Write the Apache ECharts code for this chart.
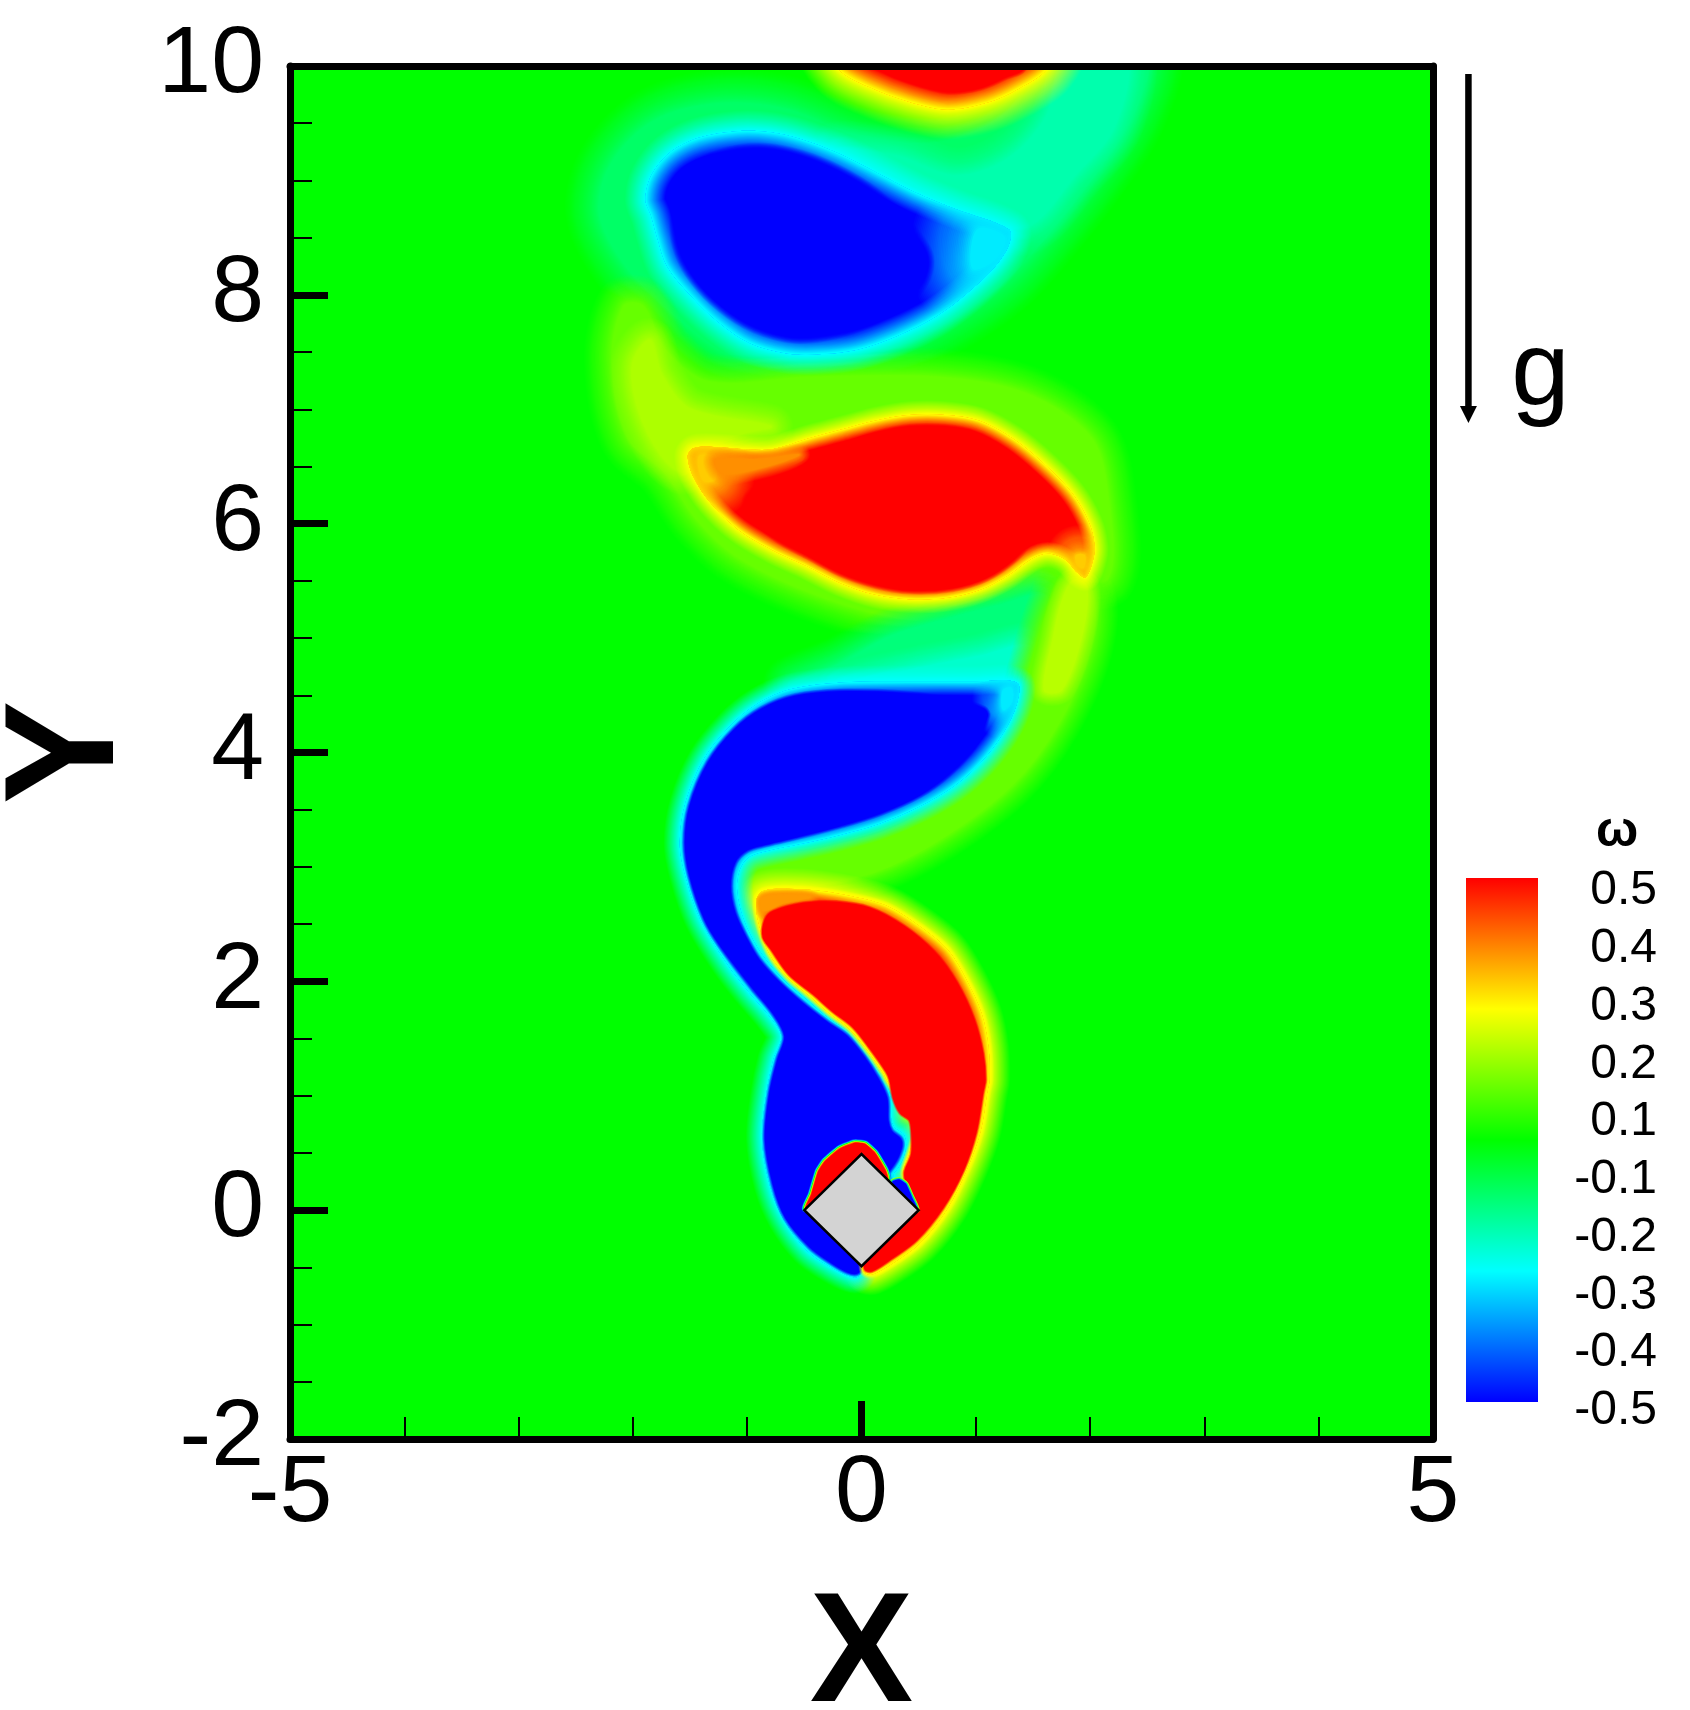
<!DOCTYPE html>
<html><head><meta charset="utf-8">
<style>html,body{margin:0;padding:0;background:#fff}#c{width:1690px;height:1710px}</style>
<script src="https://cdn.jsdelivr.net/npm/echarts@6/dist/echarts.min.js"></script>
</head><body><div id="c"></div>
<script>
// ---- colour scale (omega value -> rgb) ----
const omegaStops = [-0.5, -0.25, 0, 0.25, 0.5];
const omegaColors = [[0,0,255],[0,255,255],[0,255,0],[255,255,0],[255,0,0]];
const colorbarLabels = ['-0.5','-0.4','-0.3','-0.2','-0.1','0.1','0.2','0.3','0.4','0.5'];

// ---- contour outlines of omega, in X/Y units ----
const wakeTop = [[2.48,10.1],[2.37,9.57],[2.00,9.00],[1.62,8.52],[1.24,8.11],[.67,7.73],[0,7.44],[-.57,7.35],[-1.15,7.47],[-1.62,7.81],[-2.05,8.24],[-2.29,8.71],[-2.19,9.14],[-1.81,9.52],[-1.24,9.67],[-.67,9.62],[0,9.38],[.67,9.33],[1.24,9.57],[1.67,10.1]];
const wakeTopInner = [[1.79,10.1],[2.31,10.1],[2.21,9.47],[1.86,9.04],[1.45,8.60],[1.00,8.69],[.31,9.04],[-.21,9.27],[.31,9.21],[.82,9.04],[1.27,9.18],[1.62,9.56]];
const redHalo = [[-2.08,7.90],[-2.18,7.43],[-2.05,6.76],[-1.72,6.45],[-1.45,6.05],[-1.1,5.72],[-.5,5.42],[.2,5.2],[.8,5.15],[1.4,5.3],[1.7,5.55],[2.15,5.52],[2.15,6.28],[2.0,6.76],[1.43,7.14],[.67,7.28],[-.48,7.28],[-1.34,7.24],[-1.72,7.52],[-1.91,7.90]];
const crescent = [[-2.0,7.4],[-1.95,7.0],[-1.75,6.6],[-1.55,6.45],[-1.4,6.65],[-1.0,6.8],[-.8,6.85],[-1.5,7.0],[-1.75,7.3],[-1.85,7.6]];
const lobeWake = [[-.60,4.58],[-.18,4.78],[.27,5.02],[.73,5.16],[1.18,5.28],[1.60,5.37],[1.66,5.13],[1.60,4.84],[1.45,4.55]];
const lobeWakeInner = [[-.18,4.56],[.42,4.72],[1.03,4.84],[1.48,4.93],[1.52,4.70],[1.40,4.55]];
const lobeTail = [[1.77,5.52],[2.02,5.40],[2.00,4.90],[1.72,4.25],[1.32,3.72],[.70,3.25],[.10,2.95],[-.50,2.82],[-.95,2.65],[-1.00,3.05],[-.40,3.15],[.30,3.35],[.90,3.75],[1.30,4.20],[1.45,4.65],[1.55,5.00],[1.65,5.30]];
const lobeTailInner = [[1.85,5.5],[1.97,5.45],[1.92,5.0],[1.75,4.55],[1.60,4.55],[1.68,5.0],[1.75,5.3]];

const capEdge = [[-.20,9.97],[.06,9.82],[.41,9.69],[.75,9.62],[1.10,9.68],[1.37,9.80],[1.62,9.97],[1.7,10.2],[-.3,10.2]];
const capCore = [[.20,9.97],[.41,9.87],[.75,9.78],[1.03,9.81],[1.27,9.91],[1.41,9.97],[1.5,10.2],[.1,10.2]];

const topVortexEdge = [[-1.89,8.83],[-1.84,9.04],[-1.68,9.24],[-1.43,9.37],[-1.08,9.43],[-.80,9.42],[-.53,9.36],[-.21,9.24],[.13,9.07],[.48,8.89],[.82,8.75],[1.29,8.57],[1.29,8.44],[1.17,8.25],[.93,8.02],[.65,7.81],[.31,7.64],[-.04,7.52],[-.39,7.48],[-.66,7.49],[-.98,7.58],[-1.25,7.76],[-1.49,7.99],[-1.70,8.25],[-1.79,8.51],[-1.84,8.69]];
const topVortexTail = [[1.02,8.56],[1.24,8.50],[1.16,8.32],[.98,8.24]];
const topVortexCore = [[-1.62,8.66],[-1.56,8.95],[-1.43,9.12],[-1.15,9.24],[-.84,9.27],[-.53,9.21],[-.21,9.08],[.10,8.89],[.37,8.63],[.55,8.40],[.58,8.25],[.51,8.08],[.31,7.90],[-.04,7.73],[-.39,7.64],[-.66,7.64],[-1.01,7.76],[-1.29,7.96],[-1.49,8.19],[-1.60,8.43]];

const midVortexEdge = [[-1.52,6.59],[-1.47,6.66],[-1.29,6.67],[-1.02,6.65],[-.78,6.65],[-.48,6.74],[-.18,6.82],[.12,6.90],[.42,6.95],[.73,6.95],[1.03,6.90],[1.33,6.74],[1.60,6.52],[1.84,6.27],[1.99,6.01],[2.04,5.80],[2.02,5.66],[1.96,5.53],[1.89,5.57],[1.78,5.69],[1.63,5.74],[1.48,5.69],[1.27,5.54],[1.03,5.42],[.73,5.35],[.42,5.34],[.12,5.38],[-.18,5.48],[-.48,5.63],[-.78,5.77],[-1.08,5.95],[-1.32,6.18],[-1.47,6.41]];
const midVortexTailLeft = [[-1.42,6.58],[-1.30,6.58],[-1.28,6.40],[-1.38,6.38]];
const midVortexTailTop = [[-1.28,6.56],[-.92,6.56],[-.55,6.60],[-.92,6.48],[-1.22,6.44]];
const midVortexTailRight = [[1.88,5.72],[1.95,5.72],[1.94,5.62],[1.89,5.64]];
const midVortexCore = [[-.99,6.24],[-.87,6.33],[-.60,6.44],[-.33,6.56],[-.03,6.71],[.27,6.81],[.57,6.84],[.88,6.81],[1.18,6.68],[1.45,6.47],[1.66,6.27],[1.79,6.06],[1.75,6.01],[1.60,5.95],[1.48,5.86],[1.33,5.69],[1.09,5.53],[.79,5.44],[.42,5.42],[.12,5.47],[-.18,5.57],[-.48,5.73],[-.72,5.86],[-.93,6.04],[-1.01,6.15]];

const blueEdge = [[1.36,4.61],[1.36,4.43],[1.24,4.17],[1.04,3.91],[.80,3.70],[.51,3.53],[.16,3.38],[-.19,3.28],[-.54,3.20],[-.83,3.14],[-.98,3.09],[-1.06,2.99],[-1.09,2.83],[-1.06,2.63],[-.98,2.42],[-.86,2.22],[-.68,2.01],[-.48,1.84],[-.28,1.67],[-.10,1.55],[.05,1.37],[.16,1.20],[.19,1.17],[.25,1.00],[.26,.79],[.29,.72],[.37,.66],[.39,.57],[.37,.47],[.32,.37],[.28,.31],[.3,.2],[0,0],[0,-.49],[-.03,-.58],[-.10,-.58],[-.28,-.49],[-.48,-.35],[-.68,-.08],[-.80,.21],[-.87,.62],[-.83,1.03],[-.77,1.32],[-.70,1.52],[-.80,1.69],[-.98,1.90],[-1.18,2.16],[-1.41,2.54],[-1.54,2.92],[-1.59,3.21],[-1.54,3.56],[-1.38,3.94],[-1.15,4.23],[-.92,4.42],[-.63,4.55],[-.19,4.61],[.40,4.62],[.98,4.62]];
const blueTail = [[1.24,4.54],[1.31,4.56],[1.31,4.44],[1.24,4.38]];
const blueCore = [[1.10,4.32],[.98,4.05],[.77,3.82],[.51,3.63],[.16,3.47],[-.19,3.36],[-.54,3.27],[-.83,3.20],[-1.00,3.15],[-1.11,3.04],[-1.15,2.83],[-1.11,2.60],[-1.00,2.36],[-.90,2.19],[-.73,2.00],[-.52,1.81],[-.30,1.64],[-.13,1.52],[.02,1.34],[.13,1.17],[.22,.98],[.23,.78],[.26,.69],[.34,.62],[.35,.56],[.32,.47],[.28,.40],[0,0],[0,-.5],[-.04,-.55],[-.12,-.54],[-.26,-.46],[-.45,-.32],[-.66,-.07],[-.77,.22],[-.84,.62],[-.80,1.03],[-.73,1.32],[-.67,1.52],[-.77,1.72],[-.95,1.94],[-1.24,2.32],[-1.37,2.54],[-1.50,2.92],[-1.54,3.21],[-1.50,3.53],[-1.34,3.91],[-1.11,4.20],[-.87,4.38],[-.58,4.49],[-.19,4.53],[.40,4.51],[.83,4.45],[1.07,4.38]];

const lowVortexEdge = [[-.92,2.71],[-.86,2.79],[-.66,2.81],[-.36,2.79],[-.07,2.74],[.22,2.66],[.51,2.48],[.75,2.28],[.92,2.01],[1.05,1.72],[1.11,1.43],[1.12,1.14],[1.10,1.03],[1.04,.68],[.92,.35],[.75,.01],[.51,-.29],[.28,-.46],[.10,-.56],[.03,-.55],[.01,-.49],[0,0],[.49,.01],[.42,.19],[.37,.33],[.42,.50],[.48,.70],[.48,.79],[.37,.88],[.31,1.00],[.22,1.14],[.19,1.20],[.05,1.40],[-.10,1.58],[-.28,1.72],[-.45,1.87],[-.65,2.04],[-.81,2.25],[-.90,2.51]];
const lowVortexTail = [[-.88,2.72],[-.72,2.75],[-.45,2.74],[-.70,2.68],[-.86,2.62]];
const lowVortexCore = [[-.84,2.54],[-.77,2.61],[-.51,2.68],[-.22,2.69],[.07,2.64],[.37,2.48],[.63,2.26],[.83,1.99],[.98,1.67],[1.06,1.37],[1.08,1.14],[1.06,1.03],[1.00,.68],[.89,.35],[.71,.02],[.48,-.26],[.25,-.43],[.09,-.53],[.03,-.51],[0,0],[.47,.01],[.40,.21],[.38,.33],[.44,.49],[.44,.70],[.42,.79],[.34,.85],[.28,.98],[.25,1.14],[.22,1.21],[.08,1.41],[-.07,1.60],[-.25,1.74],[-.42,1.89],[-.63,2.06],[-.78,2.27],[-.86,2.39]];
const bodyCapRed = [[-.49,.01],[-.44,.14],[-.38,.34],[-.32,.43],[-.19,.54],[-.06,.59],[.03,.58],[.12,.50],[.21,.35],[.23,.27],[0,0]];
const bodySideBlue = [[.27,.25],[.33,.27],[.39,.23],[.44,.12],[.49,0],[.3,0]];
const squareBody = [[-.5,0],[0,.49],[.5,0],[0,-.49]];

const gravityArrow = [[5.31,9.93],[5.31,6.88]];
const gravityLabelAt = [5.94,7.29];

// ---- outline, its omega level, soft width outside, omega inside, soft width inside, outline it stays within ----
const contourLayers = [
 {p:wakeTop,v:-.10,out:.3},{p:wakeTopInner,v:-.17,out:.25},{p:redHalo,v:.10,out:.25},{p:crescent,v:.17,out:.2},
 {p:lobeWake,v:-.12,out:.25},{p:lobeWakeInner,v:-.20,out:.2},{p:lobeTail,v:.10,out:.2},{p:lobeTailInner,v:.18,out:.12},
 {p:capEdge,v:.25,out:.26,inner:.5,ins:.16},{p:capCore,v:.5,out:.03},
 {p:topVortexEdge,v:-.25,out:.18,inner:-.5,ins:.17},{p:topVortexTail,v:-.27,out:.55,within:topVortexEdge},{p:topVortexCore,v:-.5,out:.06},
 {p:midVortexEdge,v:.25,out:.12,inner:.5,ins:.1},{p:midVortexTailLeft,v:.3,out:.34,within:midVortexEdge},{p:midVortexTailTop,v:.36,out:.1,within:midVortexEdge},{p:midVortexTailRight,v:.3,out:.26,within:midVortexEdge},{p:midVortexCore,v:.5,out:.04},
 {p:lowVortexEdge,v:.25,out:.18},
 {p:blueEdge,v:-.25,out:.14,inner:-.5,ins:.12},{p:blueTail,v:-.27,out:.26,within:blueEdge},{p:blueCore,v:-.5,out:.03},
 {p:lowVortexEdge,v:.25,out:.035,inner:.5,ins:.11},{p:lowVortexTail,v:.35,out:.08,within:lowVortexEdge},{p:lowVortexCore,v:.5,out:.02},
 {p:bodyCapRed,v:.5,from:-.5,out:.03,corners:true},{p:bodySideBlue,v:-.5,from:.3,out:.02,corners:true}
];

function omegaColor(v){
  v=Math.max(-.5,Math.min(.5,v));
  for(let i=0;i<omegaStops.length-1;i++){
    if(v<=omegaStops[i+1]){
      const t=(v-omegaStops[i])/(omegaStops[i+1]-omegaStops[i]);
      const a=omegaColors[i],b=omegaColors[i+1];
      return 'rgb('+a.map((c,k)=>Math.round(c+(b[k]-c)*t)).join(',')+')';
    }
  }
  return 'rgb(255,0,0)';
}
const css=c=>'rgb('+c.join(',')+')';
const BLACK='#000', FONT='Liberation Sans';

// Nested strokes, wide to narrow: each adds its share so the edge blends linearly into what lies beneath.
function softRings(shape,width,color,from,to){
  const steps=Math.max(2,Math.min(36,Math.round(width/1.5))), rings=[];
  for(let i=0;i<steps;i++){
    const stroke=from===undefined?color:omegaColor(from+(to-from)*(i+.5)/steps);
    rings.push({type:'polygon',shape,silent:true,style:{fill:'none',lineJoin:'round',
      lineWidth:width*(1-i/steps),stroke,opacity:from===undefined?1/(steps-i):1}});
  }
  return rings;
}
function renderContour(params,api){
  const L=contourLayers[params.dataIndex];
  const shapeOf=pts=>({points:pts.map(q=>api.coord(q)),smooth:L.corners?.15:.33,smoothConstraint:false});
  const shape=shapeOf(L.p);
  const unit=api.size([1,1])[0];
  const level=omegaColor(L.v);
  const children=softRings(shape,L.out*unit*2,level,L.from,L.v);
  children.push({type:'polygon',shape,silent:true,style:{fill:omegaColor(L.inner===undefined?L.v:L.inner),stroke:null}});
  if(L.inner!==undefined){
    children.push({type:'group',clipPath:{type:'polygon',shape},children:softRings(shape,L.ins*unit*2,level)});
  }
  const out={type:'group',children};
  if(L.within) out.clipPath={type:'polygon',shape:shapeOf(L.within)};
  return out;
}

const chart=echarts.init(document.getElementById('c'),null,{renderer:'canvas'});
const labelStyle={fontFamily:FONT,fontSize:95,color:BLACK,lineHeight:95};
const hidden={show:false};
chart.setOption({
  animation:false,backgroundColor:'#fff',
  grid:[
    {left:290,top:66,width:1143,height:1373,show:true,backgroundColor:'#00ff00',borderWidth:0,outerBoundsMode:'none'},
    {left:1466,top:878,width:72,height:524,outerBoundsMode:'none'},
    {left:1657,top:891,width:1,height:520,outerBoundsMode:'none'}
  ],
  xAxis:[
    {gridIndex:0,type:'value',min:-5,max:5,interval:5,z:10,
     name:'X',nameLocation:'middle',nameGap:142,nameTextStyle:{fontFamily:FONT,fontSize:155,fontWeight:'bold',color:BLACK},
     axisLine:{show:true,onZero:false,lineStyle:{color:BLACK,width:7}},
     axisTick:{show:true,inside:true,length:38,lineStyle:{color:BLACK,width:7}},
     minorTick:{show:true,splitNumber:5,length:22,lineStyle:{color:BLACK,width:2}},
     splitLine:hidden,axisLabel:{...labelStyle,margin:8,showMinLabel:true,showMaxLabel:true}},
    {gridIndex:0,type:'value',min:-5,max:5,position:'top',z:10,axisLine:{show:true,onZero:false,lineStyle:{color:BLACK,width:7}},axisTick:hidden,axisLabel:hidden,splitLine:hidden},
    {gridIndex:1,type:'value',min:0,max:1,show:false},
    {gridIndex:2,type:'value',min:0,max:1,show:false}
  ],
  yAxis:[
    {gridIndex:0,type:'value',min:-2,max:10,interval:2,z:10,
     name:'Y',nameLocation:'middle',nameGap:142,nameRotate:90,nameTextStyle:{fontFamily:FONT,fontSize:155,fontWeight:'bold',color:BLACK},
     axisLine:{show:true,onZero:false,lineStyle:{color:BLACK,width:7}},
     axisTick:{show:true,inside:true,length:38,lineStyle:{color:BLACK,width:7}},
     minorTick:{show:true,splitNumber:4,length:22,lineStyle:{color:BLACK,width:2}},
     splitLine:hidden,axisLabel:{...labelStyle,padding:[7,0,0,0],margin:26,showMinLabel:true,showMaxLabel:true}},
    {gridIndex:0,type:'value',min:-2,max:10,position:'right',z:10,axisLine:{show:true,onZero:false,lineStyle:{color:BLACK,width:7}},axisTick:hidden,axisLabel:hidden,splitLine:hidden},
    {gridIndex:1,type:'value',min:omegaStops[0],max:omegaStops[4],show:false},
    {gridIndex:2,type:'category',data:colorbarLabels,boundaryGap:false,axisLine:hidden,axisTick:hidden,splitLine:hidden,
     axisLabel:{interval:0,margin:0,fontFamily:FONT,fontSize:48,color:BLACK,showMinLabel:true,showMaxLabel:true}}
  ],
  graphic:[{type:'text',left:1596,top:807,style:{text:'ω',font:'bold 50px "'+FONT+'"',fill:BLACK}}],
  series:[
    {type:'custom',xAxisIndex:0,yAxisIndex:0,clip:true,z:2,data:contourLayers.map((l,i)=>[i]),renderItem:renderContour,silent:true},
    {type:'custom',xAxisIndex:0,yAxisIndex:0,clip:true,z:3,data:[[0]],silent:true,renderItem:(p,api)=>({
      type:'polygon',shape:{points:squareBody.map(q=>api.coord(q))},style:{fill:'#d3d3d3',stroke:BLACK,lineWidth:2.5,lineJoin:'miter'}})},
    {type:'custom',xAxisIndex:0,yAxisIndex:0,clip:false,z:3,data:[[0]],silent:true,renderItem:(p,api)=>{
      const a=api.coord(gravityArrow[0]),b=api.coord(gravityArrow[1]),g=api.coord(gravityLabelAt);
      return {type:'group',children:[
        {type:'line',shape:{x1:a[0],y1:a[1],x2:b[0],y2:b[1]-16},style:{stroke:BLACK,lineWidth:6.5}},
        {type:'polygon',shape:{points:[[b[0]-8.5,b[1]-17],[b[0]+8.5,b[1]-17],[b[0],b[1]]]},style:{fill:BLACK}},
        {type:'text',x:g[0],y:g[1],style:{text:'g',font:'105px "'+FONT+'"',fill:BLACK,align:'center',verticalAlign:'middle'}}
      ]};
    }},
    {type:'custom',xAxisIndex:2,yAxisIndex:2,clip:false,z:3,data:[[0]],silent:true,renderItem:(p,api)=>{
      const a=api.coord([0,omegaStops[4]]),b=api.coord([1,omegaStops[0]]);
      return {type:'rect',shape:{x:a[0],y:a[1],width:b[0]-a[0],height:b[1]-a[1]},
        style:{fill:new echarts.graphic.LinearGradient(0,0,0,1,omegaColors.map((c,i)=>({offset:1-i/(omegaColors.length-1),color:css(c)})).reverse())}};
    }}
  ]
});
</script></body></html>
